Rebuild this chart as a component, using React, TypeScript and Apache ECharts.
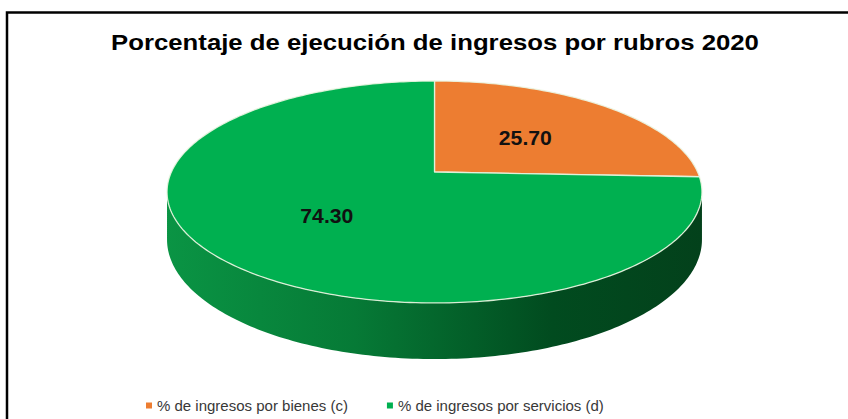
import React, { useEffect, useRef } from 'react';
import * as echarts from 'echarts';

const chartTitle = 'Porcentaje de ejecución de ingresos por rubros 2020';
const categories = ['% de ingresos por bienes (c)', '% de ingresos por servicios (d)'];
const values = [25.7, 74.3];
const valueLabels = ['25.70', '74.30'];
const colors = ['#ED7D31', '#00B050'];

// perspective pie geometry
const CX = 434.5;
const CY = 172;
const A = 263.1;
const B = 107.4;
const K = 0.18;
const D = 46;
const LABEL_R = 0.52;

function proj(r: number, phiDeg: number, dz: number): number[] {
  const p = (phiDeg * Math.PI) / 180;
  const u = r * Math.sin(p);
  const v = -r * Math.cos(p);
  const w = 1 - K * v;
  return [CX + (A * u) / w, CY + (B * v + dz) / w];
}

function arcPoints(a: number, b: number, dz: number): number[][] {
  const pts: number[][] = [];
  const n = Math.max(2, Math.ceil(Math.abs(b - a) / 1));
  for (let i = 0; i <= n; i++) pts.push(proj(1, a + ((b - a) * i) / n, dz));
  return pts;
}

const total = values.reduce((s, v) => s + v, 0);
const VIS_A = (Math.acos(-K) * 180) / Math.PI;
const VIS_B = 360 - VIS_A;

export default function App() {
  const ref = useRef<HTMLDivElement>(null);
  useEffect(() => {
    document.body.style.margin = '0';
    if (!ref.current) return;
    const chart = echarts.init(ref.current, null, { renderer: 'svg' });
    const series = categories.map((name, i) => ({
      type: 'custom',
      name,
      coordinateSystem: 'none',
      itemStyle: { color: colors[i] },
      data: [[values[i]]],
      renderItem: (params: any) => {
        const idx = params.seriesIndex;
        let start = 0;
        for (let j = 0; j < idx; j++) start += values[j];
        const a = (start / total) * 360;
        const b = ((start + values[idx]) / total) * 360;
        const children: any[] = [];
        const sa = Math.max(a, VIS_A);
        const sb = Math.min(b, VIS_B);
        if (sb > sa) {
          const topPts = arcPoints(sa, sb, 0);
          const botPts = arcPoints(sb, sa, D);
          children.push({
            type: 'polygon',
            z2: 1,
            shape: { points: topPts.concat(botPts) },
            style: {
              fill: {
                type: 'linear',
                global: true,
                x: 167,
                y: 0,
                x2: 702,
                y2: 0,
                colorStops: [
                  { offset: 0, color: '#0a9444' },
                  { offset: 0.35, color: '#067a36' },
                  { offset: 0.72, color: '#014b1f' },
                  { offset: 1, color: '#03411b' },
                ],
              },
              stroke: null,
            },
          });
        }
        const wedge = [proj(0, 0, 0)].concat(arcPoints(a, b, 0));
        children.push({
          type: 'polygon',
          z2: 5,
          shape: { points: wedge },
          style: { fill: colors[idx], stroke: 'rgba(235,245,225,0.9)', lineWidth: 1.3, lineJoin: 'round' },
        });
        const mid = (a + b) / 2;
        const lp = proj(LABEL_R, mid, 0);
        children.push({
          type: 'text',
          z2: 10,
          x: lp[0] - 2,
          y: lp[1] + 2,
          scaleX: 1.06,
          style: {
            text: valueLabels[idx],
            fill: '#111',
            font: 'bold 20px "Liberation Sans", Arial, sans-serif',
            align: 'center',
            verticalAlign: 'middle',
          },
        });
        return { type: 'group', children };
      },
    }));
    chart.setOption({
      animation: false,
      backgroundColor: '#ffffff',
      legend: {
        left: 141,
        top: 393,
        icon: 'rect',
        itemWidth: 6,
        itemHeight: 6,
        itemGap: 39,
        textStyle: { fontSize: 15, color: '#383838', fontFamily: '"Liberation Sans", Arial, sans-serif' },
        data: categories.map((name, i) => ({ name, itemStyle: { color: colors[i] } })),
      },
      graphic: [
        {
          type: 'polyline',
          shape: { points: [[7, 425], [7, 12.5], [850, 12.5]] },
          style: { stroke: '#000', lineWidth: 2.5, fill: null },
          silent: true,
        },
        {
          type: 'text',
          x: 435,
          y: 42,
          scaleX: 1.17,
          style: {
            text: chartTitle,
            fill: '#000',
            font: 'bold 22px "Liberation Sans", Arial, sans-serif',
            align: 'center',
            verticalAlign: 'middle',
          },
        },
      ],
      series,
    });
    return () => chart.dispose();
  }, []);
  return <div ref={ref} style={{ width: 848, height: 419 }} />;
}
